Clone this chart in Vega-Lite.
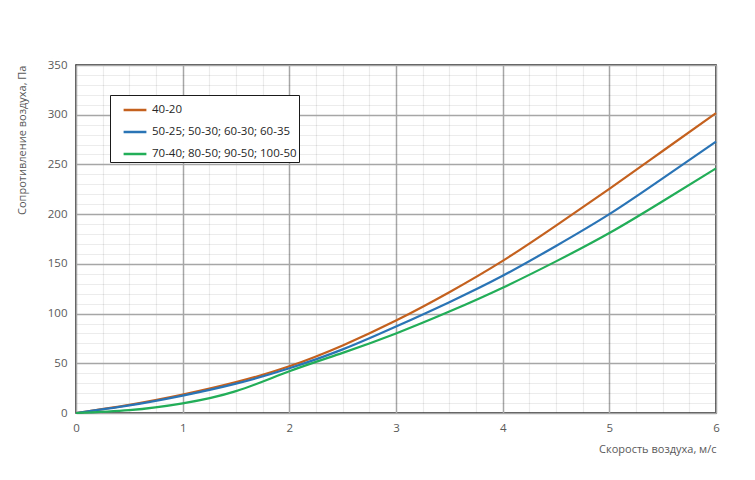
{
  "$schema": "https://vega.github.io/schema/vega-lite/v6.json",
  "width": 640,
  "height": 348,
  "autosize": {"type": "none"},
  "padding": {"left": 76, "top": 65, "right": 39, "bottom": 67},
  "background": "white",
  "config": {
    "view": {"stroke": "#1a1a1a", "strokeWidth": 1.5},
    "font": "Open Sans",
    "axis": {"labelColor": "#595959", "labelFontSize": 11.5, "titleColor": "#595959", "titleFontSize": 11, "titleFontWeight": "normal", "domain": false, "ticks": false, "labelFlush": false}
  },
  "data": {"values": [
    {"v": 0, "p": 0, "s": "40-20"},
    {"v": 0.5, "p": 8.2, "s": "40-20"},
    {"v": 1, "p": 18.5, "s": "40-20"},
    {"v": 1.5, "p": 31, "s": "40-20"},
    {"v": 2, "p": 47, "s": "40-20"},
    {"v": 2.5, "p": 68, "s": "40-20"},
    {"v": 3, "p": 93, "s": "40-20"},
    {"v": 3.5, "p": 121.5, "s": "40-20"},
    {"v": 4, "p": 153, "s": "40-20"},
    {"v": 4.5, "p": 188.5, "s": "40-20"},
    {"v": 5, "p": 225.5, "s": "40-20"},
    {"v": 5.5, "p": 263.5, "s": "40-20"},
    {"v": 6, "p": 301.5, "s": "40-20"},
    {"v": 0, "p": 0, "s": "50-25; 50-30; 60-30; 60-35"},
    {"v": 0.5, "p": 7.6, "s": "50-25; 50-30; 60-30; 60-35"},
    {"v": 1, "p": 17.5, "s": "50-25; 50-30; 60-30; 60-35"},
    {"v": 1.5, "p": 29.5, "s": "50-25; 50-30; 60-30; 60-35"},
    {"v": 2, "p": 45, "s": "50-25; 50-30; 60-30; 60-35"},
    {"v": 2.5, "p": 64, "s": "50-25; 50-30; 60-30; 60-35"},
    {"v": 3, "p": 87, "s": "50-25; 50-30; 60-30; 60-35"},
    {"v": 3.5, "p": 111.5, "s": "50-25; 50-30; 60-30; 60-35"},
    {"v": 4, "p": 138, "s": "50-25; 50-30; 60-30; 60-35"},
    {"v": 4.5, "p": 168, "s": "50-25; 50-30; 60-30; 60-35"},
    {"v": 5, "p": 200, "s": "50-25; 50-30; 60-30; 60-35"},
    {"v": 5.5, "p": 236, "s": "50-25; 50-30; 60-30; 60-35"},
    {"v": 6, "p": 273, "s": "50-25; 50-30; 60-30; 60-35"},
    {"v": 0, "p": 0, "s": "70-40; 80-50; 90-50; 100-50"},
    {"v": 0.5, "p": 2.8, "s": "70-40; 80-50; 90-50; 100-50"},
    {"v": 1, "p": 9.7, "s": "70-40; 80-50; 90-50; 100-50"},
    {"v": 1.5, "p": 22, "s": "70-40; 80-50; 90-50; 100-50"},
    {"v": 2, "p": 42, "s": "70-40; 80-50; 90-50; 100-50"},
    {"v": 2.5, "p": 60.5, "s": "70-40; 80-50; 90-50; 100-50"},
    {"v": 3, "p": 80, "s": "70-40; 80-50; 90-50; 100-50"},
    {"v": 3.5, "p": 102, "s": "70-40; 80-50; 90-50; 100-50"},
    {"v": 4, "p": 126, "s": "70-40; 80-50; 90-50; 100-50"},
    {"v": 4.5, "p": 152.5, "s": "70-40; 80-50; 90-50; 100-50"},
    {"v": 5, "p": 181, "s": "70-40; 80-50; 90-50; 100-50"},
    {"v": 5.5, "p": 213, "s": "70-40; 80-50; 90-50; 100-50"},
    {"v": 6, "p": 246, "s": "70-40; 80-50; 90-50; 100-50"}
  ]},
  "layer": [
    {
      "mark": {"type": "line", "opacity": 0},
      "encoding": {
        "x": {
          "field": "v", "type": "quantitative",
          "scale": {"domain": [0, 6], "nice": false},
          "axis": {
            "title": null, "labels": false, "orient": "top", "grid": true,
            "values": [0.25,0.5,0.75,1.25,1.5,1.75,2.25,2.5,2.75,3.25,3.5,3.75,4.25,4.5,4.75,5.25,5.5,5.75],
            "gridColor": "#000000", "gridOpacity": 0.075, "gridWidth": 1.2
          }
        },
        "y": {
          "field": "p", "type": "quantitative",
          "scale": {"domain": [0, 350], "nice": false},
          "axis": {
            "title": null, "labels": false, "orient": "right", "grid": true,
            "values": [10,20,30,40,60,70,80,90,110,120,130,140,160,170,180,190,210,220,230,240,260,270,280,290,310,320,330,340],
            "gridColor": "#000000", "gridOpacity": 0.075, "gridWidth": 1.2
          }
        }
      }
    },
    {
      "mark": {"type": "line", "interpolate": "natural", "strokeWidth": 2.2},
      "encoding": {
        "x": {
          "field": "v", "type": "quantitative",
          "axis": {
            "title": "Скорость воздуха, м/с",
            "orient": "bottom", "grid": true,
            "titleAnchor": "end",
            "titlePadding": 10,
            "labelPadding": 9,
            "values": [0,1,2,3,4,5,6],
            "format": "d",
            "gridColor": "#a6a6a6", "gridWidth": 1.5
          }
        },
        "y": {
          "field": "p", "type": "quantitative",
          "axis": {
            "title": "Сопротивление воздуха, Па",
            "orient": "left", "grid": true,
            "titleAnchor": "end",
            "titlePadding": 20,
            "labelPadding": 9,
            "values": [0,50,100,150,200,250,300,350],
            "gridColor": "#a6a6a6", "gridWidth": 1.5
          }
        },
        "color": {
          "field": "s", "type": "nominal",
          "scale": {"domain": ["40-20", "50-25; 50-30; 60-30; 60-35", "70-40; 80-50; 90-50; 100-50"], "range": ["#c4611f", "#2a74b6", "#22ad58"]},
          "legend": {
            "title": null,
            "orient": "none",
            "legendX": 34,
            "legendY": 30,
            "fillColor": "white",
            "strokeColor": "#1a1a1a",
            "padding": 2,
            "symbolType": "stroke",
            "symbolSize": 520,
            "symbolStrokeWidth": 2.5,
            "symbolOffset": 10,
            "labelFontSize": 11.5,
            "labelColor": "#262626",
            "rowPadding": 3,
            "labelOffset": 4
          }
        }
      }
    }
  ],
  "resolve": {"axis": {"x": "independent", "y": "independent"}}
}
